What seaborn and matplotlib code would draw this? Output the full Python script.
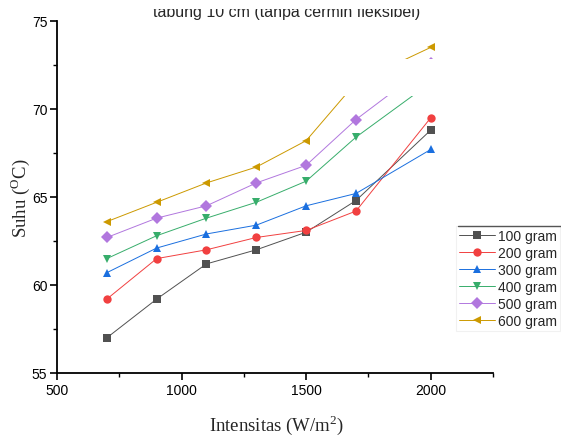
import numpy as np
import pandas as pd
import matplotlib
matplotlib.use('Agg')
import matplotlib.pyplot as plt
import seaborn as sns
from matplotlib.patches import Rectangle
from matplotlib.ticker import MultipleLocator

# Данные
intensitas = [700, 900, 1100, 1300, 1500, 1700, 2000]
suhu_100 = [57.0, 59.2, 61.2, 62.0, 63.0, 64.8, 68.8]
suhu_200 = [59.2, 61.5, 62.0, 62.7, 63.1, 64.2, 69.5]
suhu_300 = [60.7, 62.1, 62.9, 63.4, 64.5, 65.2, 67.7]
suhu_400 = [61.5, 62.8, 63.8, 64.7, 65.9, 68.4, 71.5]
suhu_500 = [62.7, 63.8, 64.5, 65.8, 66.8, 69.4, 72.6]
suhu_600 = [63.6, 64.7, 65.8, 66.7, 68.2, 71.5, 73.5]
labels = ['100 gram', '200 gram', '300 gram', '400 gram', '500 gram', '600 gram']

colors = ['#515151', '#F14040', '#1A6FDF', '#37AD6B', '#B177DE', '#CC9900']
markers = ['s', 'o', '^', 'v', 'D', '<']

series = [suhu_100, suhu_200, suhu_300, suhu_400, suhu_500, suhu_600]
df = pd.concat([
    pd.DataFrame({'Intensitas': intensitas, 'Suhu': s, 'Massa': lab})
    for s, lab in zip(series, labels)
], ignore_index=True)

sns.set_style('white')
plt.rcParams['font.family'] = ['Liberation Sans', 'DejaVu Sans']
plt.rcParams['mathtext.fontset'] = 'custom'

fig = plt.figure(figsize=(5.61, 4.39), dpi=100)
ax = fig.add_axes([57 / 561, 1 - 374 / 439, (493 - 57) / 561, (374 - 22) / 439])

sns.lineplot(data=df, x='Intensitas', y='Suhu', hue='Massa', style='Massa',
             hue_order=labels, style_order=labels, palette=colors,
             markers=markers, dashes=False, linewidth=0.7,
             markersize=6, markeredgewidth=0, ax=ax, legend='full')

ax.set_xlim(500, 2250)
ax.set_ylim(55, 75)
ax.xaxis.set_major_locator(MultipleLocator(500))
ax.xaxis.set_minor_locator(MultipleLocator(250))
ax.yaxis.set_major_locator(MultipleLocator(5))
ax.yaxis.set_minor_locator(MultipleLocator(2.5))
for s in ['top', 'right']:
    ax.spines[s].set_visible(False)
for s in ['left', 'bottom']:
    ax.spines[s].set_color('black')
    ax.spines[s].set_linewidth(1.3)
ax.tick_params(which='major', direction='out', length=5, width=1.2, labelsize=10,
               left=True, bottom=True, colors='black', pad=2)
ax.tick_params(which='minor', direction='out', length=3, width=1.0,
               left=True, bottom=True, colors='black')

ax.set_xlabel('')
ax.set_ylabel('')
fig.text(276 / 561, 1 - 425 / 439, r'Intensitas (W/m$^\mathregular{2}$)',
         family='Liberation Serif', fontsize=13.5, ha='center', va='center')
fig.text(20 / 561, 1 - 198 / 439, r'Suhu ($^\mathregular{O}$C)',
         family='Liberation Serif', fontsize=13.5, ha='center', va='center',
         rotation=90)

# заголовок (обрезан сверху)
fig.text(287 / 561, 1 - 17 / 439, 'tabung 10 cm (tanpa cermin fleksibel)',
         fontsize=11.5, ha='center', va='baseline')

handles, labs = ax.get_legend_handles_labels()
leg = ax.legend(handles, labs, loc='upper left',
                bbox_to_anchor=(456 / 561, 1 - 227 / 439),
                bbox_transform=fig.transFigure, fontsize=10, frameon=True,
                handlelength=2.6, handletextpad=0.2, labelspacing=0.22,
                borderpad=0.2, borderaxespad=0, fancybox=False)
leg.get_frame().set_edgecolor('#eeeeee')
leg.get_frame().set_linewidth(0.8)
fig.add_artist(plt.Line2D([458 / 561, 1], [1 - 227 / 439] * 2,
                          transform=fig.transFigure, color='#555555', lw=1))

# белые заплатки, как на исходном изображении
fig.add_artist(Rectangle((0, 1 - 10 / 439), 1, 10 / 439, transform=fig.transFigure,
                         facecolor='white', edgecolor='none', zorder=10))
fig.add_artist(Rectangle((290 / 561, 1 - 97 / 439), (447 - 290) / 561, 37 / 439,
                         transform=fig.transFigure, facecolor='white',
                         edgecolor='none', zorder=10))

fig.savefig('out.png', dpi=100, facecolor='white')
